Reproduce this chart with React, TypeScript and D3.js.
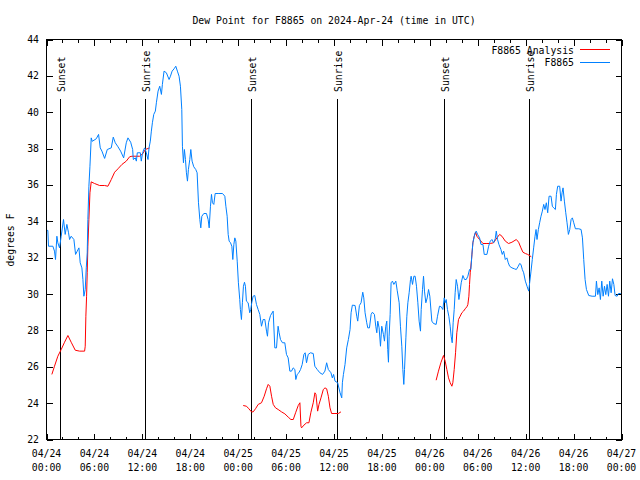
import React from "react";
import * as d3 from "d3";

// hours since 2024-04-24 00:00 UTC, dew point in °F
const observedHours: number[] = [
  0.0, 0.17, 0.25, 0.8, 1.0, 1.13, 1.3, 1.42, 1.63, 1.84, 2.13, 2.34, 2.55, 2.76, 2.89, 3.09, 3.43, 3.64, 3.85, 4.06,
  4.22, 4.43, 4.56, 4.68, 4.85, 4.98, 5.1, 5.18, 5.31, 5.44, 5.6, 5.73, 6.23, 6.52, 6.73, 6.94, 7.28, 7.61, 8.11, 8.36,
  8.61, 8.95, 9.28, 9.66, 9.99, 10.2, 10.54, 10.79, 10.87, 11.12, 11.25, 11.37, 11.75, 11.87, 12.0, 12.17, 12.3, 12.5, 12.71, 12.84,
  13.0, 13.13, 13.26, 13.43, 13.63, 13.76, 13.97, 14.18, 14.39, 14.51, 14.72, 15.01, 15.35, 15.52, 15.73, 15.98, 16.19, 16.39, 16.6, 16.77,
  16.94, 17.02, 17.15, 17.27, 17.4, 17.52, 17.65, 17.77, 17.94, 18.07, 18.23, 18.44, 18.69, 18.86, 19.03, 19.2, 19.32, 19.45, 19.7, 20.03,
  20.24, 20.37, 20.53, 20.66, 20.78, 20.95, 21.12, 21.49, 22.04, 22.33, 22.46, 22.62, 22.75, 22.87, 23.04, 23.21, 23.33, 23.46, 23.58, 23.71,
  23.88, 24.03, 24.2, 24.28, 24.41, 24.53, 24.66, 24.79, 24.91, 25.03, 25.25, 25.45, 25.58, 25.7, 25.87, 26.08, 26.29, 26.5, 26.71, 26.92,
  27.13, 27.34, 27.55, 27.67, 27.8, 28.05, 28.38, 28.59, 28.8, 29.0, 29.13, 29.3, 29.55, 29.84, 30.05, 30.26, 30.47, 30.68, 30.89, 31.1,
  31.22, 31.39, 31.6, 31.81, 32.02, 32.23, 32.39, 32.56, 32.77, 33.06, 33.4, 33.6, 33.9, 34.23, 34.57, 34.86, 35.08, 35.29, 35.62, 35.79,
  35.95, 36.13, 36.46, 36.76, 36.97, 37.05, 37.18, 37.38, 37.59, 37.8, 38.01, 38.14, 38.3, 38.64, 38.85, 38.97, 39.18, 39.39, 39.6, 39.73,
  39.89, 40.1, 40.23, 40.44, 40.65, 40.81, 41.06, 41.23, 41.36, 41.48, 41.65, 41.82, 41.98, 42.19, 42.32, 42.48, 42.61, 42.73, 42.82, 42.9,
  43.03, 43.15, 43.32, 43.49, 43.74, 43.91, 44.16, 44.32, 44.49, 44.62, 44.74, 44.83, 45.0, 45.12, 45.25, 45.41, 45.58, 45.66, 45.83, 46.0,
  46.16, 46.33, 46.5, 46.66, 46.83, 46.92, 47.08, 47.21, 47.33, 47.5, 47.67, 47.84, 48.0, 48.25, 48.46, 48.79, 48.96, 49.21, 49.42, 49.63,
  49.8, 49.92, 50.05, 50.21, 50.38, 50.55, 50.67, 50.8, 50.92, 51.05, 51.17, 51.3, 51.47, 51.64, 51.76, 51.93, 52.14, 52.35, 52.56, 52.76,
  52.97, 53.14, 53.27, 53.39, 53.56, 53.68, 53.81, 53.98, 54.23, 54.4, 54.65, 54.81, 55.15, 55.36, 55.57, 55.77, 55.98, 56.19, 56.32, 56.48,
  56.65, 56.9, 57.07, 57.24, 57.45, 57.65, 57.82, 57.99, 58.28, 58.58, 58.83, 59.08, 59.24, 59.41, 59.58, 59.75, 59.96, 60.17, 60.38, 60.5,
  60.67, 60.83, 61.0, 61.17, 61.3, 61.42, 61.59, 61.75, 61.92, 62.09, 62.26, 62.42, 62.59, 62.76, 62.93, 63.18, 63.34, 63.51, 63.72, 63.85,
  64.01, 64.26, 64.43, 64.56, 64.68, 64.85, 65.02, 65.18, 65.35, 65.52, 65.69, 65.85, 66.02, 66.23, 66.65, 66.94, 67.11, 67.27, 67.44, 67.61,
  67.9, 68.32, 68.74, 68.86, 69.03, 69.2, 69.36, 69.53, 69.7, 69.87, 70.03, 70.2, 70.37, 70.53, 70.7, 70.87, 71.04, 71.2, 71.45, 71.62,
  71.87, 72.0,
];
const observedDew: number[] = [
  33.5, 33.5, 32.63, 32.63, 32.36, 31.9, 33.18, 32.82, 32.54, 33.18, 34.1, 33.28, 33.83, 33.37, 33.0, 33.18, 33.0, 32.18, 32.36, 32.54,
  31.72, 31.44, 30.8, 29.88, 30.25, 31.44, 32.27, 34.1, 35.93, 37.03, 38.59, 38.4, 38.54, 38.78, 38.04, 37.86, 37.46, 37.95, 38.04, 38.63,
  38.32, 38.1, 37.86, 37.49, 38.32, 38.59, 38.35, 37.95, 37.4, 37.49, 37.31, 37.77, 37.77, 37.31, 37.68, 37.95, 38.04, 37.77, 37.4, 38.04,
  38.41, 38.96, 39.42, 39.88, 40.06, 40.52, 41.16, 41.43, 40.98, 41.53, 42.26, 42.17, 41.8, 41.98, 42.26, 42.39, 42.53, 42.26, 41.98, 41.43,
  40.15, 38.13, 37.22, 37.95, 37.4, 36.67, 36.21, 36.85, 37.4, 37.95, 37.31, 37.0, 36.85, 36.67, 35.02, 34.1, 33.64, 34.28, 34.43, 34.43,
  34.1, 33.64, 34.83, 35.48, 35.02, 34.93, 35.53, 35.53, 35.53, 35.38, 34.83, 34.28, 33.28, 32.91, 32.82, 32.63, 31.9, 32.73, 33.09, 32.91,
  31.81, 30.62, 29.7, 29.15, 28.6, 29.52, 30.43, 30.65, 30.43, 29.61, 29.52, 28.97, 29.15, 29.52, 29.88, 29.92, 29.43, 29.15, 28.88, 28.23,
  28.6, 28.6, 27.96, 27.68, 28.42, 28.82, 29.06, 27.04, 27.04, 28.23, 27.87, 27.5, 27.32, 27.32, 26.68, 26.49, 25.76, 25.76, 25.94, 25.85,
  25.3, 25.58, 25.67, 25.85, 26.13, 26.68, 26.77, 26.22, 26.68, 26.77, 26.73, 26.03, 25.85, 25.67, 25.58, 25.76, 26.22, 25.85, 25.67, 25.39,
  25.58, 25.21, 25.12, 24.57, 24.29, 25.12, 25.58, 26.13, 27.04, 27.5, 28.05, 28.97, 29.39, 29.37, 28.78, 28.51, 29.37, 29.52, 30.1, 29.79,
  28.97, 28.42, 28.14, 28.14, 28.88, 29.0, 28.88, 28.23, 27.87, 28.51, 28.14, 27.13, 28.23, 27.78, 27.41, 28.23, 28.51, 26.95, 26.25, 27.68,
  28.88, 30.62, 30.71, 30.53, 30.71, 30.21, 29.52, 28.23, 27.13, 25.85, 25.03, 25.85, 27.59, 28.78, 29.52, 30.07, 30.8, 30.98, 30.53, 30.98,
  30.98, 30.43, 29.52, 28.51, 27.96, 29.15, 30.25, 30.98, 30.16, 29.52, 29.79, 30.25, 29.88, 28.51, 28.38, 28.33, 28.78, 29.33, 29.3, 29.15,
  29.79, 29.52, 29.7, 29.15, 28.78, 28.23, 27.68, 27.32, 28.42, 29.15, 30.07, 30.8, 30.43, 29.7, 30.07, 30.62, 31.02, 30.8, 30.8, 30.98,
  31.35, 31.35, 32.18, 32.82, 33.18, 33.37, 33.46, 33.28, 33.09, 32.73, 32.73, 32.18, 32.18, 32.63, 32.91, 33.0, 32.82, 33.04, 33.46, 33.0,
  32.73, 32.45, 32.18, 32.36, 31.9, 31.99, 31.72, 31.53, 31.44, 31.39, 31.35, 31.53, 31.68, 31.63, 31.35, 31.17, 30.71, 30.43, 30.16, 30.62,
  31.26, 31.9, 32.54, 33.18, 33.55, 33.0, 33.55, 33.92, 34.28, 34.56, 34.93, 34.65, 35.02, 34.47, 35.38, 35.38, 34.83, 34.74, 34.65, 35.48,
  35.93, 35.93, 35.11, 35.57, 35.84, 35.11, 34.47, 33.92, 33.28, 33.55, 34.1, 34.19, 33.92, 33.59, 33.59, 33.55, 33.09, 31.9, 30.8, 30.25,
  29.92, 29.88, 29.88, 30.71, 29.97, 30.34, 29.7, 30.71, 29.88, 30.43, 29.97, 30.53, 29.88, 30.71, 30.07, 30.84, 30.53, 29.92, 29.88, 30.03,
  30.03, 30.0,
];

// analysis series, three separate runs
const analysisHours1: number[] = [
  0.67, 1.0, 1.42, 1.84, 2.26, 2.68, 3.09, 3.6, 4.14, 4.77, 4.85, 4.93, 5.02, 5.1, 5.18, 5.31, 5.44, 5.6, 6.02, 6.65,
  7.28, 7.69, 8.11, 8.53, 8.95, 9.45, 9.99, 10.41, 10.7, 11.66, 12.08, 12.37, 12.91,
];
const analysisDew1: number[] = [
  25.58, 26.03, 26.58, 26.95, 27.35, 27.72, 27.35, 26.91, 26.86, 26.86, 27.13, 28.78, 29.88, 31.17, 32.63, 34.1, 35.57, 36.17, 36.08, 35.97,
  35.97, 35.93, 36.3, 36.7, 36.89, 37.13, 37.31, 37.55, 37.58, 37.58, 37.73, 37.95, 38.04,
];
const analysisHours2: number[] = [
  24.63, 25.04, 25.34, 25.67, 25.88, 26.17, 26.51, 26.92, 27.26, 27.55, 27.76, 27.97, 28.18, 28.39, 28.68, 29.01, 29.43, 29.85, 30.27, 30.6,
  30.9, 31.19, 31.52, 31.73, 31.86, 31.94, 32.23, 32.57, 32.86, 33.11, 33.4, 33.61, 33.74, 33.95, 34.12, 34.37, 34.66, 34.87, 35.08, 35.29,
  35.5, 35.7, 36.12, 36.54, 36.87,
];
const analysisDew2: number[] = [
  23.87, 23.83, 23.69, 23.52, 23.52, 23.69, 23.93, 24.02, 24.38, 24.79, 25.03, 24.93, 24.38, 23.93, 23.74, 23.65, 23.52, 23.41, 23.23, 23.1,
  23.1, 23.47, 23.87, 24.02, 22.73, 22.64, 22.79, 22.92, 22.92, 23.5, 24.02, 24.57, 24.48, 23.56, 23.93, 24.29, 24.75, 24.84, 24.79, 24.38,
  23.74, 23.43, 23.43, 23.43, 23.52,
];
const analysisHours3: number[] = [
  48.79, 49.08, 49.38, 49.71, 49.92, 50.13, 50.34, 50.55, 50.76, 50.88, 51.05, 51.22, 51.38, 51.59, 51.8, 52.01, 52.22, 52.43, 52.64, 52.76,
  52.89, 52.97, 53.06, 53.22, 53.39, 53.56, 53.73, 53.89, 54.23, 54.65, 55.15, 55.57, 55.98, 56.4, 56.74, 57.03, 57.45, 57.86, 58.28, 58.83,
  59.12, 59.41, 59.66, 59.96, 60.25, 60.71,
];
const analysisDew3: number[] = [
  25.26, 25.76, 26.22, 26.62, 26.31, 25.85, 25.39, 25.12, 24.93, 25.12, 25.85, 26.77, 27.87, 28.6, 28.78, 28.97, 29.06, 29.19, 29.3, 29.42,
  29.88, 30.53, 31.17, 31.9, 32.82, 33.18, 33.4, 33.18, 33.0, 32.78, 32.78, 32.78, 32.82, 33.09, 33.28, 33.18, 32.91, 32.78, 32.85, 33.0,
  32.85, 32.54, 32.3, 32.23, 32.18, 32.05,
];

const sunHours: number[] = [1.67, 12.33, 25.63, 36.42, 49.72, 60.38];
const sunLabels: string[] = ["Sunset", "Sunrise", "Sunset", "Sunrise", "Sunset", "Sunrise"];

const yTicks: number[] = [22, 24, 26, 28, 30, 32, 34, 36, 38, 40, 42, 44];
const seriesNames: string[] = ["F8865 Analysis", "F8865"];
const seriesColors: string[] = ["#ff0000", "#0080ff"];
const titleText = "Dew Point for F8865 on 2024-Apr-24 (time in UTC)";
const yLabel = "degrees F";

const T0 = Date.UTC(2024, 3, 24, 0, 0);
const hToDate = (h: number) => new Date(T0 + h * 3600 * 1000);

const FONT = "'DejaVu Sans Mono', 'Liberation Mono', monospace";
const FS = 9.8;

export default function App() {
  const W = 640, H = 480;
  const L = 46.5, R = 621.5, T = 39.5, B = 439.5;
  const x = d3.scaleUtc().domain([hToDate(0), hToDate(72)]).range([L, R]);
  const y = d3.scaleLinear().domain([22, 44]).range([B, T]);

  const line = d3
    .line<[number, number]>()
    .x((d) => x(hToDate(d[0])))
    .y((d) => y(d[1]));

  const zip = (hs: number[], vs: number[]) => hs.map((h, i) => [h, vs[i]] as [number, number]);
  const obsPath = line(zip(observedHours, observedDew)) || "";
  const anaPaths = [
    zip(analysisHours1, analysisDew1),
    zip(analysisHours2, analysisDew2),
    zip(analysisHours3, analysisDew3),
  ].map((s) => line(s) || "");

  const majorTicks = x.ticks(d3.utcHour.every(6)!);
  const minorTicks = x.ticks(d3.utcHour.every(2)!);
  const fmtDate = d3.utcFormat("%m/%d");
  const fmtTime = d3.utcFormat("%H:%M");

  return (
    <svg
      width={W}
      height={H}
      style={{ position: "absolute", left: 0, top: 0, background: "#fff" }}
      fontFamily={FONT}
      fontSize={FS}
    >
      <rect x={0} y={0} width={W} height={H} fill="#fff" />
      <text x={334} y={20} textAnchor="middle" dominantBaseline="central" fill="#000">
        {titleText}
      </text>
      <text
        transform={`translate(10,240) rotate(-90)`}
        textAnchor="middle"
        dominantBaseline="central"
        fill="#000"
      >
        {yLabel}
      </text>

      {/* y ticks */}
      {yTicks.map((t) => (
        <g key={"y" + t}>
          <line x1={L} x2={L + 6} y1={Math.round(y(t)) + 0.5} y2={Math.round(y(t)) + 0.5} stroke="#000" shapeRendering="crispEdges" />
          <line x1={R} x2={R - 6} y1={Math.round(y(t)) + 0.5} y2={Math.round(y(t)) + 0.5} stroke="#000" shapeRendering="crispEdges" />
          <text x={39} y={y(t)} textAnchor="end" dominantBaseline="central" fill="#000">
            {t}
          </text>
        </g>
      ))}

      {/* x ticks */}
      {minorTicks.map((t, i) => {
        const px = Math.round(x(t)) + 0.5;
        return (
          <g key={"m" + i} shapeRendering="crispEdges">
            <line x1={px} x2={px} y1={B} y2={B - 3} stroke="#000" />
            <line x1={px} x2={px} y1={T} y2={T + 3} stroke="#000" />
          </g>
        );
      })}
      {majorTicks.map((t, i) => {
        const px = Math.round(x(t)) + 0.5;
        return (
          <g key={"M" + i}>
            <line x1={px} x2={px} y1={B} y2={B - 6} stroke="#000" shapeRendering="crispEdges" />
            <line x1={px} x2={px} y1={T} y2={T + 6} stroke="#000" shapeRendering="crispEdges" />
            <text x={x(t)} y={453} textAnchor="middle" dominantBaseline="central" fill="#000">
              {fmtDate(t)}
            </text>
            <text x={x(t)} y={467} textAnchor="middle" dominantBaseline="central" fill="#000">
              {fmtTime(t)}
            </text>
          </g>
        );
      })}

      {/* sunrise / sunset markers */}
      {sunHours.map((h, i) => {
        const px = Math.round(x(hToDate(h))) + 0.5;
        return (
          <g key={"s" + i}>
            <line x1={px} x2={px} y1={B} y2={99} stroke="#000" shapeRendering="crispEdges" />
            <text
              transform={`translate(${px + 0.5},92) rotate(-90)`}
              textAnchor="start"
              dominantBaseline="central"
              fill="#000"
            >
              {sunLabels[i]}
            </text>
          </g>
        );
      })}

      {/* data */}
      {anaPaths.map((p, i) => (
        <path key={"a" + i} d={p} fill="none" stroke={seriesColors[0]} strokeWidth={1} />
      ))}
      <path d={obsPath} fill="none" stroke={seriesColors[1]} strokeWidth={1} />

      {/* legend */}
      {seriesNames.map((n, i) => {
        const ly = 50 + i * 12.5;
        return (
          <g key={"l" + i}>
            <text x={574} y={ly} textAnchor="end" dominantBaseline="central" fill="#000">
              {n}
            </text>
            <line
              x1={580}
              x2={610}
              y1={Math.round(ly) - 0.5}
              y2={Math.round(ly) - 0.5}
              stroke={seriesColors[i]}
              shapeRendering="crispEdges"
            />
          </g>
        );
      })}

      {/* frame */}
      <rect x={L} y={T} width={R - L} height={B - T} fill="none" stroke="#000" shapeRendering="crispEdges" />
    </svg>
  );
}
